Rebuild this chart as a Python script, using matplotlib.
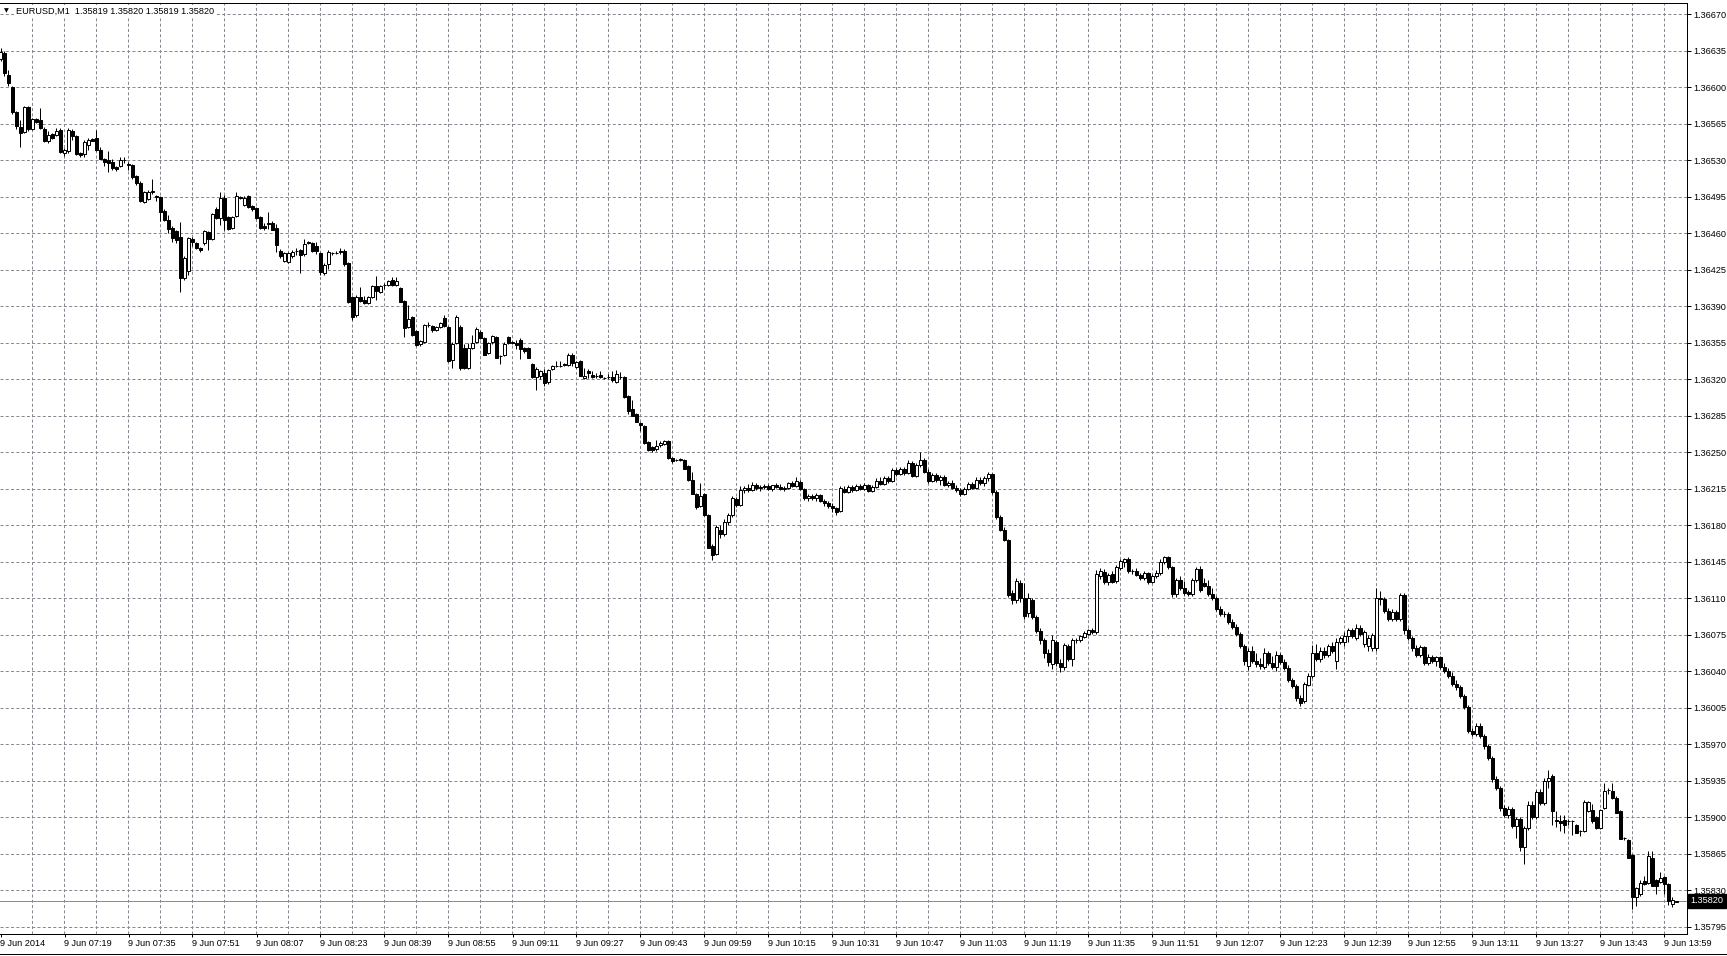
import numpy as np
import matplotlib.pyplot as plt
from matplotlib.lines import Line2D

plt.rcParams['font.family'] = ['Liberation Sans', 'DejaVu Sans']
plt.rcParams['lines.scale_dashes'] = False

# EURUSD M1, 9 Jun 2014 07:03 .. 14:02 (one candle per minute)
# prices in points above 1.35000
opens = [
    1627, 1633, 1612, 1600, 1576, 1562, 1557, 1581, 1560, 1570,
    1569, 1560, 1549, 1555, 1554, 1559, 1537, 1539, 1558, 1553,
    1537, 1536, 1545, 1551, 1552, 1540, 1531, 1530, 1529, 1524,
    1525, 1530, 1527, 1526, 1515, 1508, 1490, 1493, 1500, 1496,
    1495, 1482, 1473, 1465, 1462, 1457, 1417, 1424, 1455, 1451,
    1446, 1451, 1461, 1455, 1483, 1475, 1494, 1476, 1465, 1477,
    1495, 1487, 1496, 1486, 1484, 1476, 1467, 1470, 1470, 1465,
    1443, 1434, 1433, 1438, 1443, 1444, 1440, 1452, 1451, 1448,
    1441, 1422, 1431, 1441, 1441, 1442, 1443, 1432, 1399, 1382,
    1399, 1396, 1393, 1399, 1410, 1404, 1411, 1411, 1415, 1411,
    1408, 1395, 1370, 1380, 1366, 1354, 1356, 1372, 1371, 1367,
    1370, 1379, 1370, 1339, 1355, 1370, 1350, 1331, 1350, 1356,
    1365, 1360, 1345, 1356, 1361, 1342, 1343, 1361, 1356, 1355,
    1358, 1350, 1350, 1335, 1322, 1323, 1326, 1318, 1330, 1333,
    1333, 1335, 1334, 1343, 1332, 1338, 1321, 1328, 1324, 1323,
    1324, 1321, 1322, 1322, 1318, 1322, 1322, 1304, 1292, 1287,
    1278, 1275, 1260, 1255, 1253, 1257, 1258, 1261, 1245, 1243,
    1244, 1243, 1237, 1224, 1210, 1199, 1210, 1190, 1160, 1153,
    1176, 1172, 1183, 1190, 1205, 1200, 1214, 1216, 1214, 1219,
    1216, 1217, 1218, 1215, 1219, 1217, 1215, 1216, 1221, 1218,
    1222, 1215, 1206, 1208, 1206, 1209, 1203, 1201, 1199, 1197,
    1194, 1215, 1212, 1217, 1214, 1218, 1215, 1219, 1213, 1217,
    1223, 1220, 1225, 1223, 1233, 1229, 1234, 1230, 1240, 1227,
    1238, 1243, 1231, 1223, 1228, 1224, 1226, 1219, 1221, 1216,
    1214, 1210, 1215, 1220, 1216, 1224, 1221, 1225, 1229, 1212,
    1188, 1176, 1166, 1115, 1108, 1125, 1110, 1096, 1108, 1092,
    1079, 1070, 1058, 1047, 1068, 1048, 1044, 1064, 1052, 1070,
    1070, 1073, 1076, 1080, 1078, 1131, 1135, 1126, 1133, 1127,
    1139, 1145, 1148, 1136, 1136, 1132, 1130, 1134, 1126, 1131,
    1134, 1145, 1150, 1140, 1114, 1128, 1120, 1116, 1114, 1128,
    1138, 1125, 1122, 1114, 1110, 1100, 1095, 1095, 1087, 1083,
    1076, 1064, 1045, 1060, 1050, 1047, 1044, 1058, 1048, 1044,
    1056, 1049, 1043, 1032, 1026, 1014, 1012, 1027, 1036, 1058,
    1052, 1060, 1056, 1064, 1050, 1068, 1068, 1074, 1080, 1072,
    1082, 1066, 1064, 1062, 1062, 1110, 1109, 1098, 1090, 1097,
    1090, 1113, 1080, 1072, 1062, 1056, 1063, 1048, 1054, 1050,
    1054, 1044, 1040, 1036, 1028, 1025, 1016, 1006, 983, 980,
    988, 978, 968, 957, 937, 928, 909, 902, 908, 892,
    898, 872, 890, 912, 900, 924, 914, 935, 940, 897,
    896, 897, 896, 896, 893, 887, 887, 906, 907, 900,
    890, 909, 926, 925, 919, 906, 880, 878, 864, 824,
    826, 839, 837, 861, 840, 838, 843, 836, 817, 819,
]
highs = [
    1638, 1635, 1617, 1601, 1577, 1569, 1582, 1582, 1571, 1571,
    1580, 1562, 1558, 1556, 1561, 1561, 1542, 1561, 1560, 1554,
    1538, 1550, 1552, 1552, 1559, 1543, 1532, 1539, 1531, 1525,
    1533, 1533, 1529, 1527, 1516, 1510, 1501, 1502, 1512, 1497,
    1496, 1483, 1478, 1467, 1463, 1471, 1438, 1457, 1457, 1452,
    1447, 1463, 1462, 1480, 1485, 1500, 1497, 1477, 1477, 1500,
    1496, 1496, 1497, 1487, 1485, 1477, 1470, 1481, 1472, 1469,
    1445, 1442, 1442, 1444, 1446, 1445, 1455, 1453, 1452, 1452,
    1442, 1432, 1444, 1442, 1443, 1446, 1445, 1433, 1400, 1401,
    1409, 1400, 1400, 1411, 1419, 1411, 1412, 1415, 1418, 1418,
    1409, 1396, 1391, 1381, 1367, 1358, 1373, 1375, 1372, 1371,
    1375, 1382, 1371, 1356, 1382, 1372, 1354, 1355, 1363, 1370,
    1367, 1361, 1356, 1363, 1362, 1343, 1356, 1362, 1357, 1358,
    1360, 1351, 1351, 1336, 1332, 1329, 1330, 1330, 1334, 1338,
    1338, 1336, 1345, 1345, 1338, 1339, 1331, 1330, 1328, 1326,
    1328, 1322, 1325, 1328, 1329, 1327, 1323, 1305, 1300, 1288,
    1279, 1276, 1261, 1256, 1262, 1261, 1262, 1262, 1246, 1244,
    1245, 1244, 1238, 1231, 1211, 1221, 1211, 1191, 1162, 1180,
    1180, 1186, 1192, 1208, 1207, 1218, 1218, 1220, 1222, 1221,
    1219, 1220, 1220, 1219, 1221, 1220, 1218, 1222, 1223, 1226,
    1224, 1216, 1210, 1210, 1211, 1210, 1205, 1203, 1201, 1198,
    1218, 1218, 1219, 1219, 1220, 1220, 1221, 1220, 1219, 1225,
    1226, 1227, 1227, 1235, 1235, 1236, 1236, 1243, 1242, 1240,
    1250, 1245, 1234, 1230, 1230, 1228, 1228, 1223, 1224, 1219,
    1216, 1217, 1222, 1222, 1226, 1226, 1227, 1231, 1230, 1214,
    1190, 1178, 1167, 1118, 1130, 1128, 1125, 1115, 1110, 1094,
    1082, 1072, 1061, 1075, 1070, 1052, 1067, 1066, 1072, 1072,
    1075, 1079, 1081, 1082, 1137, 1139, 1138, 1134, 1136, 1142,
    1148, 1149, 1150, 1138, 1139, 1134, 1136, 1135, 1133, 1137,
    1148, 1151, 1151, 1141, 1130, 1131, 1127, 1118, 1130, 1140,
    1141, 1130, 1128, 1120, 1112, 1103, 1098, 1097, 1090, 1085,
    1078, 1066, 1062, 1064, 1058, 1053, 1062, 1060, 1055, 1060,
    1058, 1052, 1046, 1034, 1028, 1017, 1030, 1038, 1065, 1066,
    1063, 1063, 1066, 1068, 1072, 1074, 1078, 1082, 1082, 1085,
    1084, 1080, 1075, 1077, 1120, 1117, 1111, 1101, 1100, 1099,
    1115, 1115, 1082, 1074, 1065, 1065, 1064, 1057, 1056, 1055,
    1055, 1048, 1043, 1039, 1032, 1027, 1018, 1008, 986, 990,
    990, 980, 970, 959, 940, 930, 912, 911, 910, 900,
    900, 892, 916, 916, 926, 927, 938, 945, 942, 906,
    902, 902, 898, 897, 894, 888, 917, 916, 913, 901,
    908, 933, 928, 933, 920, 907, 881, 879, 865, 833,
    840, 844, 868, 868, 841, 848, 844, 837, 824, 820,
]
lows = [
    1625, 1611, 1601, 1575, 1560, 1543, 1556, 1558, 1559, 1566,
    1560, 1548, 1547, 1551, 1553, 1537, 1534, 1537, 1550, 1535,
    1533, 1533, 1540, 1549, 1539, 1531, 1525, 1519, 1521, 1520,
    1524, 1528, 1521, 1512, 1506, 1490, 1489, 1492, 1498, 1491,
    1472, 1472, 1460, 1452, 1451, 1404, 1415, 1420, 1448, 1445,
    1442, 1449, 1444, 1454, 1474, 1468, 1463, 1463, 1464, 1476,
    1493, 1486, 1484, 1482, 1474, 1464, 1463, 1464, 1463, 1442,
    1436, 1433, 1432, 1436, 1439, 1422, 1438, 1450, 1442, 1440,
    1420, 1420, 1426, 1439, 1440, 1440, 1429, 1393, 1377, 1380,
    1394, 1392, 1392, 1398, 1396, 1403, 1407, 1410, 1410, 1410,
    1394, 1361, 1369, 1362, 1352, 1352, 1355, 1370, 1365, 1366,
    1369, 1370, 1337, 1331, 1354, 1329, 1330, 1330, 1349, 1355,
    1359, 1343, 1344, 1354, 1341, 1335, 1342, 1354, 1354, 1349,
    1340, 1345, 1341, 1321, 1310, 1320, 1314, 1316, 1329, 1332,
    1332, 1333, 1333, 1333, 1331, 1323, 1320, 1321, 1321, 1321,
    1321, 1320, 1320, 1318, 1317, 1320, 1302, 1287, 1285, 1279,
    1271, 1258, 1251, 1250, 1251, 1255, 1257, 1244, 1240, 1242,
    1242, 1234, 1223, 1210, 1196, 1198, 1189, 1158, 1147, 1152,
    1168, 1170, 1180, 1188, 1198, 1199, 1211, 1212, 1213, 1214,
    1213, 1215, 1214, 1213, 1216, 1214, 1213, 1215, 1217, 1217,
    1214, 1204, 1203, 1204, 1203, 1202, 1199, 1197, 1193, 1190,
    1193, 1211, 1211, 1212, 1213, 1214, 1214, 1212, 1212, 1216,
    1219, 1219, 1221, 1222, 1227, 1228, 1228, 1229, 1226, 1226,
    1236, 1230, 1221, 1222, 1222, 1219, 1218, 1217, 1215, 1212,
    1208, 1209, 1214, 1215, 1215, 1219, 1218, 1223, 1210, 1186,
    1175, 1165, 1111, 1105, 1106, 1107, 1090, 1092, 1090, 1077,
    1066, 1053, 1045, 1042, 1045, 1039, 1041, 1050, 1045, 1067,
    1068, 1072, 1075, 1076, 1076, 1129, 1124, 1123, 1125, 1125,
    1137, 1140, 1134, 1133, 1131, 1128, 1128, 1124, 1125, 1130,
    1132, 1143, 1138, 1111, 1111, 1118, 1113, 1112, 1112, 1126,
    1116, 1121, 1112, 1108, 1098, 1093, 1092, 1085, 1081, 1074,
    1062, 1046, 1041, 1048, 1044, 1042, 1042, 1046, 1042, 1040,
    1047, 1041, 1030, 1024, 1012, 1007, 1010, 1026, 1034, 1050,
    1049, 1053, 1054, 1058, 1042, 1066, 1064, 1068, 1072, 1070,
    1074, 1063, 1060, 1060, 1060, 1104, 1096, 1088, 1088, 1088,
    1088, 1076, 1070, 1060, 1054, 1054, 1046, 1046, 1048, 1045,
    1042, 1038, 1034, 1026, 1022, 1014, 1004, 981, 978, 978,
    976, 966, 955, 934, 926, 906, 900, 899, 890, 880,
    868, 855, 888, 898, 898, 912, 912, 928, 893, 891,
    887, 885, 893, 883, 885, 882, 886, 905, 895, 889,
    889, 908, 922, 918, 904, 879, 878, 861, 812, 815,
    825, 835, 836, 834, 826, 837, 826, 816, 814, 819,
]
closes = [
    1634, 1614, 1604, 1576, 1563, 1556, 1581, 1560, 1570, 1567,
    1561, 1549, 1554, 1552, 1558, 1538, 1540, 1559, 1553, 1536,
    1535, 1548, 1550, 1549, 1540, 1531, 1529, 1528, 1523, 1522,
    1530, 1530, 1526, 1514, 1508, 1491, 1500, 1500, 1501, 1495,
    1481, 1473, 1464, 1456, 1454, 1417, 1436, 1456, 1452, 1446,
    1444, 1462, 1455, 1479, 1475, 1494, 1473, 1464, 1476, 1496,
    1494, 1494, 1485, 1483, 1475, 1465, 1465, 1469, 1463, 1449,
    1438, 1441, 1441, 1442, 1443, 1439, 1450, 1451, 1443, 1443,
    1423, 1430, 1442, 1441, 1441, 1443, 1431, 1394, 1380, 1399,
    1395, 1393, 1399, 1410, 1405, 1410, 1411, 1414, 1411, 1414,
    1394, 1369, 1378, 1363, 1353, 1357, 1372, 1372, 1367, 1370,
    1374, 1371, 1338, 1354, 1380, 1331, 1331, 1350, 1355, 1368,
    1360, 1343, 1355, 1362, 1341, 1342, 1354, 1355, 1355, 1353,
    1349, 1347, 1341, 1322, 1330, 1328, 1317, 1329, 1333, 1333,
    1333, 1334, 1343, 1336, 1337, 1323, 1323, 1326, 1322, 1323,
    1322, 1321, 1322, 1319, 1325, 1322, 1303, 1290, 1285, 1279,
    1276, 1259, 1252, 1252, 1256, 1259, 1261, 1245, 1242, 1243,
    1243, 1234, 1224, 1210, 1198, 1208, 1190, 1158, 1152, 1178,
    1172, 1183, 1190, 1206, 1200, 1214, 1216, 1214, 1219, 1216,
    1217, 1218, 1215, 1219, 1217, 1215, 1216, 1221, 1218, 1223,
    1215, 1206, 1208, 1206, 1209, 1203, 1201, 1199, 1197, 1193,
    1216, 1212, 1217, 1214, 1218, 1215, 1219, 1213, 1217, 1223,
    1220, 1225, 1223, 1233, 1229, 1234, 1230, 1240, 1227, 1238,
    1243, 1231, 1223, 1228, 1224, 1226, 1219, 1221, 1216, 1214,
    1210, 1215, 1220, 1216, 1224, 1221, 1225, 1229, 1212, 1188,
    1176, 1166, 1113, 1108, 1127, 1110, 1093, 1110, 1092, 1079,
    1070, 1058, 1049, 1070, 1048, 1044, 1065, 1052, 1070, 1070,
    1074, 1077, 1080, 1078, 1133, 1136, 1126, 1132, 1126, 1140,
    1146, 1148, 1136, 1136, 1132, 1130, 1134, 1126, 1131, 1134,
    1145, 1150, 1140, 1114, 1128, 1120, 1115, 1114, 1128, 1138,
    1118, 1122, 1114, 1110, 1100, 1095, 1095, 1087, 1083, 1076,
    1064, 1050, 1060, 1050, 1047, 1045, 1058, 1048, 1044, 1056,
    1049, 1043, 1032, 1026, 1014, 1010, 1028, 1036, 1058, 1052,
    1060, 1056, 1064, 1060, 1068, 1072, 1074, 1080, 1074, 1082,
    1076, 1078, 1072, 1075, 1110, 1109, 1098, 1090, 1097, 1090,
    1113, 1080, 1072, 1062, 1056, 1063, 1048, 1054, 1050, 1054,
    1044, 1040, 1036, 1028, 1025, 1016, 1006, 983, 980, 988,
    978, 968, 957, 937, 928, 909, 902, 908, 892, 898,
    872, 890, 912, 900, 924, 914, 935, 938, 906, 896,
    895, 893, 896, 896, 885, 887, 915, 915, 896, 890,
    907, 925, 926, 919, 904, 879, 880, 861, 824, 832,
    837, 836, 863, 834, 834, 842, 836, 820, 821, 820,
]

time_labels = ["9 Jun 2014", "9 Jun 07:19", "9 Jun 07:35", "9 Jun 07:51", "9 Jun 08:07",
               "9 Jun 08:23", "9 Jun 08:39", "9 Jun 08:55", "9 Jun 09:11", "9 Jun 09:27",
               "9 Jun 09:43", "9 Jun 09:59", "9 Jun 10:15", "9 Jun 10:31", "9 Jun 10:47",
               "9 Jun 11:03", "9 Jun 11:19", "9 Jun 11:35", "9 Jun 11:51", "9 Jun 12:07",
               "9 Jun 12:23", "9 Jun 12:39", "9 Jun 12:55", "9 Jun 13:11", "9 Jun 13:27",
               "9 Jun 13:43", "9 Jun 13:59"]
price_levels = [1.35795, 1.35830, 1.35865, 1.35900, 1.35935, 1.35970, 1.36005, 1.36040,
                1.36075, 1.36110, 1.36145, 1.36180, 1.36215, 1.36250, 1.36285, 1.36320,
                1.36355, 1.36390, 1.36425, 1.36460, 1.36495, 1.36530, 1.36565, 1.36600,
                1.36635, 1.36670]
symbol = "EURUSD,M1"
last_bar = "1.35819 1.35820 1.35819 1.35820"
last_price = 1.35820

o = 1.35 + np.array(opens) / 1e5
h = 1.35 + np.array(highs) / 1e5
l = 1.35 + np.array(lows) / 1e5
c = 1.35 + np.array(closes) / 1e5
x = np.arange(len(o))

W, H = 1727, 956
PX = 0.72  # one pixel in points at dpi 100
grid_col = '#868b93'

fig = plt.figure(figsize=(W / 100, H / 100), dpi=100)
ax = fig.add_axes([0, 22 / H, 1687 / W, 931.5 / H])
ax.set_xlim(-0.125, 421.625)
ax.set_ylim(1.357881, 1.366815)

# grid
for lev in price_levels:
    ax.axhline(lev, color=grid_col, lw=PX, dashes=(2.2, 1.6), zorder=0)
for gx in range(8, 422, 8):
    ax.axvline(gx, color=grid_col, lw=PX, dashes=(2.2, 1.6), zorder=0)

# current price line
ax.axhline(last_price, color='#8c8c8c', lw=PX, zorder=1)

# candles
ax.vlines(x, l, h, color='black', lw=PX, zorder=2)
bull = c > o
bear = c < o
doji = c == o
ax.bar(x[bull], (c - o)[bull], bottom=o[bull], width=0.75, facecolor='white',
       edgecolor='black', lw=PX, zorder=3)
ax.bar(x[bear], (o - c)[bear], bottom=c[bear], width=0.75, facecolor='black',
       edgecolor='black', lw=PX, zorder=3)
ax.hlines(o[doji], x[doji] - 0.4, x[doji] + 0.4, color='black', lw=PX, zorder=3)

# axes styling
ax.spines['left'].set_visible(False)
for side in ['right', 'bottom', 'top']:
    ax.spines[side].set_color('black')
    ax.spines[side].set_linewidth(PX)

ax.yaxis.tick_right()
ax.set_yticks(price_levels)
ax.set_yticklabels([f"{v:.5f}" for v in price_levels])
ax.tick_params(axis='y', direction='out', length=2.9, width=PX, pad=1.8,
               labelsize=6.6, colors='black')
ax.set_xticks(range(0, 420, 16))
ax.set_xticklabels(time_labels)
ax.tick_params(axis='x', direction='out', length=2.2, width=PX, pad=1.2,
               labelsize=6.6, colors='black')
for t in ax.get_xticklabels():
    t.set_ha('left')

# header
fig.text(6 / W, 1 - 11 / H, '\u25bc', fontsize=4.5, va='center', ha='center',
         family='DejaVu Sans')
fig.text(15.5 / W, 1 - 11 / H, f"{symbol}  {last_bar}", fontsize=6.6, va='center',
         ha='left', bbox=dict(facecolor='white', edgecolor='none', pad=0.8))

# price label on the axis
ax.annotate(f"{last_price:.5f}", xy=(1.0, last_price), xycoords=('axes fraction', 'data'),
            xytext=(2.6, 0), textcoords='offset points', va='center', ha='left',
            fontsize=6.6, color='white',
            bbox=dict(boxstyle='square,pad=0.25', facecolor='black', edgecolor='black'))

# window bottom border
fig.add_artist(Line2D([0, 1], [1 - 953.5 / H] * 2, color='black', lw=PX))

fig.savefig('out.png', dpi=100, facecolor='white')
